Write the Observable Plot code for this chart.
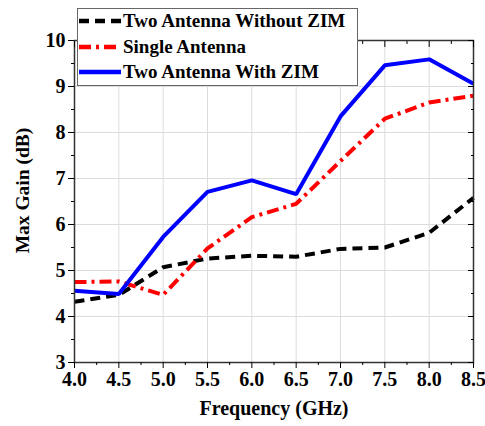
<!DOCTYPE html>
<html><head><meta charset="utf-8">
<script src="https://cdn.jsdelivr.net/npm/d3@7"></script>
<script src="https://cdn.jsdelivr.net/npm/@observablehq/plot@0.6"></script>
<style>
body{margin:0;background:#fff;}
#wrap{position:relative;width:485px;height:426px;}
#legend{position:absolute;left:77px;top:8px;width:281px;height:78px;background:#fff;border:1px solid #666;box-sizing:border-box;font-family:"Liberation Serif","Times New Roman",serif;font-weight:bold;font-size:19px;color:#000;}
.row{position:absolute;left:0;height:24px;display:flex;align-items:center;white-space:nowrap;}
.row svg{margin-right:1px;}
</style></head>
<body><div id="wrap"><div id="chart"></div><div id="legend"></div></div>
<script>
const freq = [4.0, 4.5, 5.0, 5.5, 6.0, 6.5, 7.0, 7.5, 8.0, 8.5];
const withoutZIM = [4.32, 4.47, 5.07, 5.26, 5.32, 5.30, 5.47, 5.50, 5.82, 6.58];
const single = [4.75, 4.76, 4.47, 5.48, 6.16, 6.45, 7.38, 8.30, 8.65, 8.80];
const withZIM = [4.56, 4.49, 5.73, 6.71, 6.96, 6.66, 8.35, 9.46, 9.59, 9.06];
const seriesNames = ["Two Antenna Without ZIM", "Single Antenna", "Two Antenna With ZIM"];
const xLabel = "Frequency (GHz)";
const yLabel = "Max Gain (dB)";
const xTicks = [4.0, 4.5, 5.0, 5.5, 6.0, 6.5, 7.0, 7.5, 8.0, 8.5];
const xMinor = [4.25, 4.75, 5.25, 5.75, 6.25, 6.75, 7.25, 7.75, 8.25];
const yTicks = [3, 4, 5, 6, 7, 8, 9, 10];
const yMinor = [3.5, 4.5, 5.5, 6.5, 7.5, 8.5, 9.5];

const styles = {
  [seriesNames[0]]: {stroke: "#000000", dash: "10,6", w: 4},
  [seriesNames[1]]: {stroke: "#ff0000", dash: "12,5,3,5", w: 4},
  [seriesNames[2]]: {stroke: "#0000ff", dash: null, w: 4}
};
const seriesVals = [withoutZIM, single, withZIM];
const rows = [];
seriesNames.forEach((s, i) => freq.forEach((f, j) => rows.push({f, g: seriesVals[i][j], s})));

const FF = '"Liberation Serif","Times New Roman",serif';
const font = {fontFamily: FF, fontWeight: "bold"};
const lineMarks = seriesNames.map(s => Plot.line(rows.filter(r => r.s === s), {
  x: "f", y: "g", stroke: styles[s].stroke, strokeWidth: styles[s].w,
  strokeDasharray: styles[s].dash, strokeLinejoin: "miter", strokeLinecap: "butt"
}));

const chart = Plot.plot({
  width: 485, height: 426,
  marginLeft: 74, marginRight: 12, marginTop: 40, marginBottom: 64,
  style: {fontFamily: FF, fontWeight: "bold", fontSize: "19.5px", color: "#000", background: "#fff"},
  x: {domain: [4, 8.5]},
  y: {domain: [3, 10]},
  marks: [
    Plot.gridX(xTicks, {stroke: "#dcdcdc", strokeOpacity: 1, strokeWidth: 1}),
    Plot.gridY(yTicks, {stroke: "#dcdcdc", strokeOpacity: 1, strokeWidth: 1}),
    ...lineMarks,
    Plot.frame({stroke: "#333", strokeWidth: 1.5}),
    Plot.axisX(xTicks, {tickSize: 6, tickPadding: 3, tickFormat: d => d.toFixed(1), fontSize: 20, ...font,
      label: xLabel, labelAnchor: "center", labelArrow: "none", labelOffset: 52}),
    Plot.axisX(xMinor, {tickSize: 3, text: null, label: null}),
    Plot.axisX(xTicks, {anchor: "top", tickSize: -6, text: null, label: null}),
    Plot.axisX(xMinor, {anchor: "top", tickSize: -3, text: null, label: null}),
    Plot.axisY(yTicks, {tickSize: 6, tickPadding: 3, tickFormat: d => String(d), fontSize: 20, ...font, label: null}),
    Plot.text([yLabel], {frameAnchor: "left", textAnchor: "middle", lineAnchor: "middle", rotate: -90, dx: -52, dy: -11, fontSize: 19.5, ...font, fill: "#000"}),
    Plot.axisY(yMinor, {tickSize: 3, text: null, label: null}),
    Plot.axisY(yTicks, {anchor: "right", tickSize: -6, text: null, label: null}),
    Plot.axisY(yMinor, {anchor: "right", tickSize: -3, text: null, label: null})
  ]
});
document.getElementById("chart").appendChild(chart);

const leg = document.getElementById("legend");
const rowTops = [0, 26, 51];
seriesNames.forEach((s, i) => {
  const st = styles[s];
  const div = document.createElement("div");
  div.className = "row";
  div.style.top = rowTops[i] + "px";
  div.innerHTML = `<svg width="44" height="10"><line x1="1" y1="5" x2="43" y2="5" stroke="${st.stroke}" stroke-width="${st.w + 0.5}" ${st.dash ? `stroke-dasharray="${st.dash}"` : ""}/></svg><span>${s}</span>`;
  leg.appendChild(div);
});
</script>
</body></html>
